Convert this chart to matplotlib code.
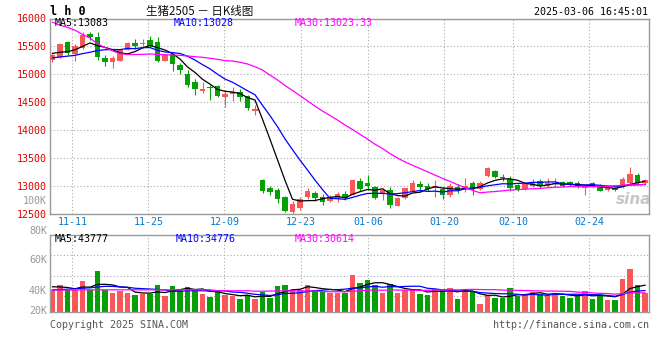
import numpy as np
import pandas as pd
import matplotlib
matplotlib.use("Agg")
import matplotlib.pyplot as plt

# ---------------- data ----------------
opens = [15256, 15305, 15570, 15370, 15470, 15715, 15663, 15285, 15225, 15245,
         15440, 15565, 15540, 15615, 15585, 15240, 15360, 15165, 15005, 14857,
         14705, 14778, 14790, 14600, 14640, 14685, 14605, 14350, 13106, 12955,
         12920, 12795, 12540, 12600, 12800, 12880, 12805, 12730, 12760, 12855,
         12845, 13090, 13060, 12980, 12850, 12935, 12645, 12780, 12915, 13035,
         13000, 12960, 12950, 12840, 12985, 12960, 13050, 12950, 13180, 13270,
         13155, 13120, 13015, 12950, 13000, 13095, 13000, 13035, 13065, 13075,
         13060, 12960, 13045, 13000, 12920, 12955, 12975, 13045, 13195, 13050]
highs = [15405, 15566, 15600, 15550, 15750, 15760, 15760, 15340, 15330, 15450,
         15570, 15625, 15625, 15685, 15675, 15355, 15380, 15210, 15077, 14910,
         14855, 14808, 14810, 14725, 14770, 14745, 14630, 14450, 13120, 13000,
         12960, 12815, 12725, 12805, 12955, 12910, 12850, 12840, 12885, 12910,
         13115, 13150, 13195, 13000, 12960, 12985, 12800, 12970, 13105, 13085,
         13045, 13105, 12985, 13045, 13030, 13140, 13090, 13090, 13345, 13290,
         13215, 13180, 13030, 13060, 13115, 13115, 13140, 13135, 13085, 13095,
         13090, 13015, 13065, 13030, 12975, 12975, 13165, 13345, 13225, 13130]
lows = [15220, 15287, 15350, 15240, 15450, 15620, 15260, 15150, 15110, 15235,
        15435, 15450, 15470, 15490, 15215, 15235, 15060, 15005, 14770, 14635,
        14670, 14545, 14590, 14420, 14520, 14530, 14360, 14270, 12880, 12840,
        12690, 12540, 12505, 12570, 12760, 12735, 12665, 12705, 12720, 12745,
        12830, 12900, 12930, 12760, 12750, 12600, 12635, 12765, 12900, 12905,
        12910, 12800, 12760, 12805, 12880, 12890, 12840, 12920, 13165, 13150,
        13090, 12915, 12905, 12935, 12985, 12960, 12985, 12985, 12985, 12990,
        12960, 12840, 12985, 12900, 12900, 12900, 12955, 13035, 13030, 13020]
closes = [15346, 15550, 15380, 15510, 15710, 15660, 15305, 15228, 15300, 15430,
          15565, 15510, 15560, 15515, 15240, 15350, 15185, 15078, 14808, 14745,
          14740, 14750, 14605, 14640, 14675, 14600, 14400, 14375, 12915, 12885,
          12766, 12556, 12680, 12760, 12915, 12778, 12715, 12800, 12850, 12780,
          13105, 12945, 13000, 12775, 12920, 12660, 12780, 12955, 13050, 12985,
          12945, 12990, 12845, 12990, 12930, 13005, 12960, 13050, 13315, 13165,
          13138, 12960, 12930, 13040, 13075, 12990, 13050, 13050, 13005, 13035,
          12990, 12990, 13000, 12915, 12955, 12925, 13130, 13215, 13050, 13100]
volumes = [36300, 44550, 35150, 36300, 50000, 35150, 66500, 36300, 31350, 33500,
           31350, 28050, 28550, 29700, 44550, 25250, 42900, 37950, 41250, 34150,
           29700, 23600, 34150, 26900, 25250, 20300, 28050, 20300, 32500, 23100,
           42900, 44550, 36300, 36300, 44550, 36300, 34650, 30850, 30850, 30850,
           61050, 47850, 52800, 44550, 31350, 46200, 31350, 36300, 35150, 29700,
           28050, 37950, 35150, 39600, 21450, 37950, 33500, 13200, 26900, 23100,
           23100, 39600, 25250, 28050, 32500, 29700, 26900, 29700, 25250, 23100,
           25250, 34650, 21450, 28050, 18650, 18650, 54450, 69800, 43400, 30850]

# moving-average values at the left edge (history not visible in the chart)
ma5_head = [15375, 15395, 15405, 15440]
ma10_head = [15295, 15310, 15325, 15340, 15370, 15395, 15425, 15440, 15445]
ma30_head = [15935, 15880, 15842, 15790, 15715, 15650, 15545, 15480, 15420, 15370,
             15355, 15355, 15358, 15364, 15358, 15351, 15346, 15340, 15328, 15316,
             15305, 15287, 15269, 15244, 15238, 15215, 15185, 15136, 15077]
vma5_head = [40800, 40500, 39600, 37500]
vma10_head = [35800, 36200, 36800, 37400, 38500, 39000, 40500, 41500, 41500]
vma30_head = [35400, 35400, 35400, 35400] + [35800] * 18 + [34200] * 5 + [33500] * 2

date_labels = ["11-11", "11-25", "12-09", "12-23", "01-06", "01-20", "02-10", "02-24"]
price_ticks = [16000, 15500, 15000, 14500, 14000, 13500, 13000, 12500]
vol_tick_labels = ["100K", "80K", "60K", "40K", "20K"]

title_code = "l h 0"
title_text = "生猪2505 － 日K线图"
timestamp = "2025-03-06 16:45:01"
ma_price_labels = ["MA5:13083", "MA10:13028", "MA30:13023.33"]
ma_vol_labels = ["MA5:43777", "MA10:34776", "MA30:30614"]

# ---------------- layout helpers ----------------
W, H = 660, 360
def fx(px):
    return px / W
def fy(py):
    return 1 - py / H

RED = "#f85858"
GREEN = "#05a005"
BLUE = "#0000ff"
MAG = "#ff00ff"
GRID = "#aaaaaa"
SPINE = "#9a9a9a"
MONO = "DejaVu Sans Mono"
FS = 7.2

o = np.array(opens, float)
h = np.array(highs, float)
l = np.array(lows, float)
c = np.array(closes, float)
v = np.array(volumes, float)
x = np.arange(len(c))
up = c >= o
cols = np.where(up, RED, GREEN)


def moving(vals, n, head):
    s = pd.Series(vals, dtype=float).rolling(n).mean().to_numpy()
    s[:len(head)] = head
    return s

ma5, ma10, ma30 = moving(c, 5, ma5_head), moving(c, 10, ma10_head), moving(c, 30, ma30_head)
vma5, vma10, vma30 = moving(v, 5, vma5_head), moving(v, 10, vma10_head), moving(v, 30, vma30_head)

# pixel geometry of the reference
slot = 7.5
x0px = 52.5
left_px, right_px = 50.5, 649.0
xlim = ((left_px - x0px) / slot, (right_px - x0px) / slot)
grid_px = [72.3, 148.3, 224.3, 300.7, 368.3, 444.3, 513.3, 589.3]
grid_pos = [(p - x0px) / slot for p in grid_px]

fig = plt.figure(figsize=(6.6, 3.6), dpi=100)
fig.patch.set_facecolor("white")

main_top, main_bot = 18.5, 213.8
vol_top, vol_bot = 234.7, 312.0
ax = fig.add_axes([fx(left_px), fy(main_bot), (right_px - left_px) / W, (main_bot - main_top) / H])
axv = fig.add_axes([fx(left_px), fy(vol_bot), (right_px - left_px) / W, (vol_bot - vol_top) / H], sharex=ax)

for a in (ax, axv):
    for s in a.spines.values():
        s.set_color(SPINE)
        s.set_linewidth(1.0)
    a.set_facecolor("white")
    a.set_axisbelow(True)
    a.grid(True, color=GRID, linestyle=(0, (1, 2)), linewidth=0.8)

# ---- candles ----
body_bottom = np.minimum(o, c)
body_h = np.maximum(np.abs(c - o), 18)
ax.vlines(x, l, h, colors=cols, linewidth=0.8, zorder=2)
ax.bar(x, body_h, bottom=body_bottom, width=0.72, color=cols, linewidth=0, zorder=3)
ax.plot(x, ma5, color="black", lw=0.9, zorder=4)
ax.plot(x, ma10, color=BLUE, lw=0.9, zorder=4)
ax.plot(x, ma30, color=MAG, lw=0.9, zorder=4)

ax.set_xlim(*xlim)
ax.set_ylim(12500, 16000)
ax.set_yticks(price_ticks)
ax.set_yticklabels([str(t) for t in price_ticks], color="#e00000", fontsize=FS, family=MONO)
ax.set_xticks(grid_pos)
ax.set_xticklabels(date_labels, color="#0a78cc", fontsize=FS, family=MONO)
ax.tick_params(axis="both", length=0)
ax.tick_params(axis="y", pad=2.6)
ax.tick_params(axis="x", pad=2.6)

# ---- volume ----
px_per_unit = 1 / 1650.0
base_px = 311.5
vlim = (-(vol_bot - base_px) / px_per_unit, (base_px - vol_top) / px_per_unit)
axv.bar(x, v, width=0.72, color=cols, linewidth=0, zorder=2)
axv.plot(x, vma5, color="black", lw=0.9, zorder=4)
axv.plot(x, vma10, color=BLUE, lw=0.9, zorder=4)
axv.plot(x, vma30, color=MAG, lw=0.9, zorder=4)
axv.set_ylim(*vlim)
vgrid_px = [255.3, 275.7, 295.7]
axv.set_yticks([(base_px - p) / px_per_unit for p in vgrid_px])
axv.set_yticklabels([])
axv.tick_params(axis="both", length=0, labelbottom=False, labelleft=False)

# volume axis labels (as printed on the reference)
vol_label_px = [201, 230.7, 260, 290.7, 311]
for t, py in zip(vol_tick_labels, vol_label_px):
    fig.text(fx(47), fy(py), t, ha="right", va="center", color="#999999", fontsize=FS, family=MONO)

# ---- header texts ----
fig.text(fx(50), fy(11.5), title_code, ha="left", va="center", fontsize=8.5,
         family=MONO, fontweight="bold", color="black")
fig.text(fx(200), fy(11.5), title_text, ha="center", va="center", fontsize=8.3,
         family=["Noto Sans CJK SC", "DejaVu Sans"], color="#111111")
fig.text(fx(648), fy(12.3), timestamp, ha="right", va="center", fontsize=FS, family=MONO, color="black")

for t, px, col in zip(ma_price_labels, [54.3, 174, 295], ["black", BLUE, MAG]):
    fig.text(fx(px), fy(23.2), t, ha="left", va="center", fontsize=FS, family=MONO, color=col)
for t, px, col in zip(ma_vol_labels, [55, 175.7, 295], ["black", BLUE, MAG]):
    fig.text(fx(px), fy(238.6), t, ha="left", va="center", fontsize=FS, family=MONO, color=col)

# ---- footer / watermark ----
fig.text(fx(50), fy(324.5), "Copyright 2025 SINA.COM", ha="left", va="center",
         fontsize=FS, family=MONO, color="#555555")
fig.text(fx(649), fy(324.5), "http://finance.sina.com.cn", ha="right", va="center",
         fontsize=FS, family=MONO, color="#555555")
fig.text(fx(634), fy(199), "sina", ha="center", va="center", fontsize=11,
         fontweight="bold", style="italic", color="#b8b8b8", alpha=0.8)

fig.savefig("out.png", dpi=100, facecolor="white")
